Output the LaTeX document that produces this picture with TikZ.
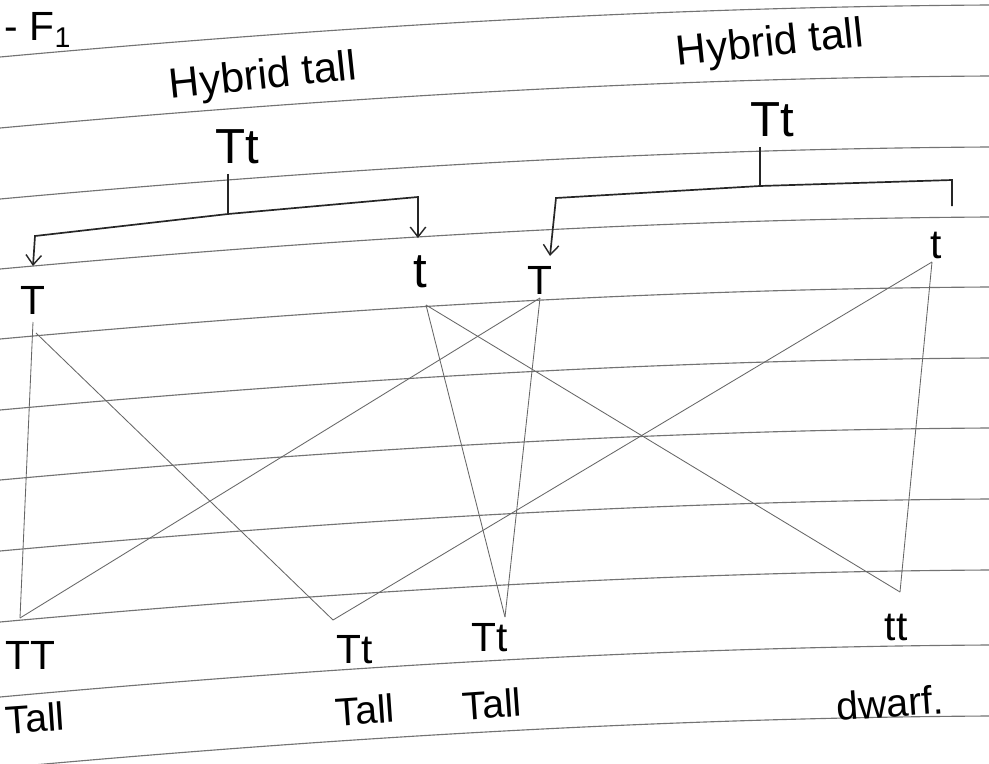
\documentclass[tikz,border=0pt]{standalone}
\usepackage{fontspec}
\setmainfont{Liberation Sans}
\usetikzlibrary{arrows.meta,calc}
\begin{document}
\begin{tikzpicture}[x=0.025cm,y=-0.025cm,
  paper/.style={draw=black!55,line width=0.8pt},
  cross/.style={draw=black!60,line width=0.6pt},
  brace/.style={draw=black!85,line width=1.2pt},
  tip/.style={-{Straight Barb[length=7pt,width=11pt,line width=1pt]}},
  big/.style={inner sep=1pt,font=\fontsize{35}{38}\selectfont},
  mid/.style={inner sep=1pt,font=\fontsize{29}{32}\selectfont},
  hyb/.style={inner sep=1pt,font=\fontsize{30}{32}\selectfont,rotate=6},
  lab/.style={inner sep=1pt,font=\fontsize{28}{30}\selectfont,rotate=4}]
\useasboundingbox (0,0) rectangle (989,764);
\fill[white] (0,0) rectangle (989,764);
% ruled paper
\foreach \y in {57,128,199,269,339,410,480,551,622,697,768}
  \draw[paper] (0,\y) .. controls (330,\y-30) and (660,\y-50) .. (989,\y-52);
% labels
\node[mid] (F1) at (38,30) {- F\textsubscript{1}};
\node[hyb] (HybL) at (263,78) {Hybrid tall};
\node[big] (TtL) at (237,147) {Tt};
\node[hyb] (HybR) at (770,45) {Hybrid tall};
\node[big] (TtR) at (772,120) {Tt};
\node[mid] (T1) at (33,300) {T};
\node[big] (t1) at (420,272) {t};
\node[mid] (T2) at (540,280) {T};
\node[mid] (t2) at (936,245) {t};
\node[mid] (B1) at (30,655) {TT};
\node[mid] (B2) at (355,650) {Tt};
\node[mid] (B3) at (490,638) {Tt};
\node[mid] (B4) at (896,627) {tt};
\node[lab] (L1) at (35,718) {Tall};
\node[lab] (L2) at (365,710) {Tall};
\node[lab] (L3) at (492,704) {Tall};
\node[lab] (L4) at (890,703) {dwarf.};
% left bracket
\coordinate (sL) at (228,214);
\coordinate (cL1) at (35,236);
\coordinate (cL2) at (418,197);
\draw[brace] (TtL.south) ++(-9,8) -- (sL);
\draw[brace,tip] (sL) -- (cL1) -- (T1.north |- 0,266);
\draw[brace,tip] (sL) -- (cL2) -- (418,238);
% right bracket
\coordinate (sR) at (760,186);
\coordinate (cR1) at (556,198);
\coordinate (cR2) at (952,180);
\draw[brace] (TtR.south) ++(-12,8) -- (sR);
\draw[brace,tip] (sR) -- (cR1) -- (550,256);
\draw[brace] (sR) -- (cR2) -- (952,206);
% crosses
\coordinate (a1) at (33,322);
\coordinate (a2) at (36,333);
\coordinate (c1) at (426,305);
\coordinate (d1) at (540,298);
\coordinate (e1) at (932,262);
\coordinate (b1) at (20,618);
\coordinate (b2) at (333,620);
\coordinate (b3) at (505,617);
\coordinate (b4) at (900,592);
\draw[cross] (a1) -- (b1);
\draw[cross] (a2) -- (b2);
\draw[cross] (d1) -- (b1);
\draw[cross] (d1) -- (b3);
\draw[cross] (c1) -- (b3);
\draw[cross] (c1) -- (b4);
\draw[cross] (e1) -- (b2);
\draw[cross] (e1) -- (b4);
\end{tikzpicture}
\end{document}
